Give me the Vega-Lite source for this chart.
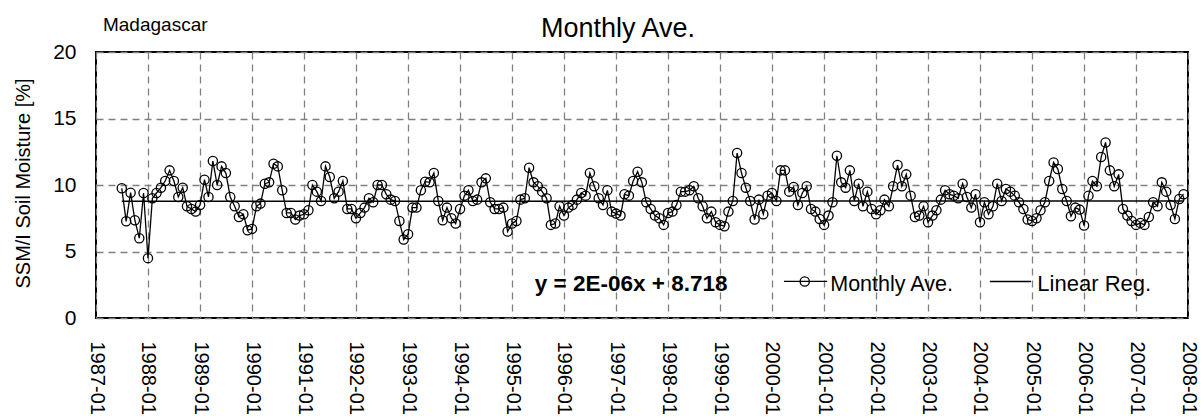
{
  "$schema": "https://vega.github.io/schema/vega-lite/v6.json",
  "width": 1092,
  "height": 266,
  "autosize": {"type": "none"},
  "padding": {"left": 96, "top": 52, "right": 16, "bottom": 101},
  "background": "white",
  "config": {
    "font": "Liberation Sans",
    "view": {"stroke": "black", "strokeWidth": 2},
    "axis": {"labelColor": "black", "titleColor": "black", "domain": false, "ticks": false, "gridColor": "#808080", "gridDash": [7, 5], "gridWidth": 1.3, "gridOpacity": 1}
  },
  "datasets": {
    "monthly": [
      {"d":"1987-07-01","v":9.75},{"d":"1987-08-01","v":7.27},{"d":"1987-09-01","v":9.42},{"d":"1987-10-01","v":7.35},{"d":"1987-11-01","v":6.0},{"d":"1987-12-01","v":9.4},
      {"d":"1988-01-01","v":4.5},{"d":"1988-02-01","v":9.0},{"d":"1988-03-01","v":9.4},{"d":"1988-04-01","v":9.8},{"d":"1988-05-01","v":10.3},{"d":"1988-06-01","v":11.1},{"d":"1988-07-01","v":10.3},{"d":"1988-08-01","v":9.1},{"d":"1988-09-01","v":9.8},{"d":"1988-10-01","v":8.4},{"d":"1988-11-01","v":8.2},{"d":"1988-12-01","v":8.0},
      {"d":"1989-01-01","v":8.5},{"d":"1989-02-01","v":10.4},{"d":"1989-03-01","v":9.1},{"d":"1989-04-01","v":11.8},{"d":"1989-05-01","v":10.0},{"d":"1989-06-01","v":11.4},{"d":"1989-07-01","v":10.9},{"d":"1989-08-01","v":9.1},{"d":"1989-09-01","v":8.4},{"d":"1989-10-01","v":7.6},{"d":"1989-11-01","v":7.8},{"d":"1989-12-01","v":6.6},
      {"d":"1990-01-01","v":6.7},{"d":"1990-02-01","v":8.4},{"d":"1990-03-01","v":8.6},{"d":"1990-04-01","v":10.1},{"d":"1990-05-01","v":10.2},{"d":"1990-06-01","v":11.6},{"d":"1990-07-01","v":11.4},{"d":"1990-08-01","v":9.6},{"d":"1990-09-01","v":7.9},{"d":"1990-10-01","v":7.9},{"d":"1990-11-01","v":7.4},{"d":"1990-12-01","v":7.7},
      {"d":"1991-01-01","v":7.8},{"d":"1991-02-01","v":8.1},{"d":"1991-03-01","v":10.0},{"d":"1991-04-01","v":9.5},{"d":"1991-05-01","v":8.8},{"d":"1991-06-01","v":11.4},{"d":"1991-07-01","v":10.6},{"d":"1991-08-01","v":9.0},{"d":"1991-09-01","v":9.5},{"d":"1991-10-01","v":10.3},{"d":"1991-11-01","v":8.2},{"d":"1991-12-01","v":8.2},
      {"d":"1992-01-01","v":7.5},{"d":"1992-02-01","v":7.9},{"d":"1992-03-01","v":8.3},{"d":"1992-04-01","v":9.0},{"d":"1992-05-01","v":8.7},{"d":"1992-06-01","v":10.0},{"d":"1992-07-01","v":10.0},{"d":"1992-08-01","v":9.3},{"d":"1992-09-01","v":8.9},{"d":"1992-10-01","v":8.8},{"d":"1992-11-01","v":7.3},{"d":"1992-12-01","v":5.9},
      {"d":"1993-01-01","v":6.3},{"d":"1993-02-01","v":8.3},{"d":"1993-03-01","v":8.3},{"d":"1993-04-01","v":9.6},{"d":"1993-05-01","v":10.25},{"d":"1993-06-01","v":10.2},{"d":"1993-07-01","v":10.9},{"d":"1993-08-01","v":8.8},{"d":"1993-09-01","v":7.35},{"d":"1993-10-01","v":8.3},{"d":"1993-11-01","v":7.5},{"d":"1993-12-01","v":7.1},
      {"d":"1994-01-01","v":8.2},{"d":"1994-02-01","v":9.2},{"d":"1994-03-01","v":9.6},{"d":"1994-04-01","v":8.8},{"d":"1994-05-01","v":8.9},{"d":"1994-06-01","v":10.2},{"d":"1994-07-01","v":10.5},{"d":"1994-08-01","v":8.7},{"d":"1994-09-01","v":8.2},{"d":"1994-10-01","v":8.2},{"d":"1994-11-01","v":8.3},{"d":"1994-12-01","v":6.5},
      {"d":"1995-01-01","v":7.1},{"d":"1995-02-01","v":7.3},{"d":"1995-03-01","v":8.9},{"d":"1995-04-01","v":9.0},{"d":"1995-05-01","v":11.3},{"d":"1995-06-01","v":10.2},{"d":"1995-07-01","v":9.9},{"d":"1995-08-01","v":9.5},{"d":"1995-09-01","v":9.0},{"d":"1995-10-01","v":7.0},{"d":"1995-11-01","v":7.1},{"d":"1995-12-01","v":8.4},
      {"d":"1996-01-01","v":7.7},{"d":"1996-02-01","v":8.3},{"d":"1996-03-01","v":8.5},{"d":"1996-04-01","v":8.9},{"d":"1996-05-01","v":9.4},{"d":"1996-06-01","v":9.2},{"d":"1996-07-01","v":10.9},{"d":"1996-08-01","v":9.9},{"d":"1996-09-01","v":9.0},{"d":"1996-10-01","v":8.5},{"d":"1996-11-01","v":9.6},{"d":"1996-12-01","v":8.0},
      {"d":"1997-01-01","v":7.85},{"d":"1997-02-01","v":7.7},{"d":"1997-03-01","v":9.3},{"d":"1997-04-01","v":9.2},{"d":"1997-05-01","v":10.3},{"d":"1997-06-01","v":11.0},{"d":"1997-07-01","v":10.2},{"d":"1997-08-01","v":8.7},{"d":"1997-09-01","v":8.2},{"d":"1997-10-01","v":7.7},{"d":"1997-11-01","v":7.5},{"d":"1997-12-01","v":7.0},
      {"d":"1998-01-01","v":7.9},{"d":"1998-02-01","v":8.0},{"d":"1998-03-01","v":8.5},{"d":"1998-04-01","v":9.5},{"d":"1998-05-01","v":9.5},{"d":"1998-06-01","v":9.6},{"d":"1998-07-01","v":9.9},{"d":"1998-08-01","v":9.0},{"d":"1998-09-01","v":8.4},{"d":"1998-10-01","v":7.5},{"d":"1998-11-01","v":8.0},{"d":"1998-12-01","v":7.2},
      {"d":"1999-01-01","v":7.0},{"d":"1999-02-01","v":6.9},{"d":"1999-03-01","v":8.0},{"d":"1999-04-01","v":8.8},{"d":"1999-05-01","v":12.4},{"d":"1999-06-01","v":10.9},{"d":"1999-07-01","v":9.8},{"d":"1999-08-01","v":8.8},{"d":"1999-09-01","v":7.4},{"d":"1999-10-01","v":8.9},{"d":"1999-11-01","v":7.8},{"d":"1999-12-01","v":9.2},
      {"d":"2000-01-01","v":9.4},{"d":"2000-02-01","v":8.8},{"d":"2000-03-01","v":11.1},{"d":"2000-04-01","v":11.1},{"d":"2000-05-01","v":9.5},{"d":"2000-06-01","v":9.85},{"d":"2000-07-01","v":8.5},{"d":"2000-08-01","v":9.4},{"d":"2000-09-01","v":9.9},{"d":"2000-10-01","v":8.2},{"d":"2000-11-01","v":8.0},{"d":"2000-12-01","v":7.45},
      {"d":"2001-01-01","v":7.0},{"d":"2001-02-01","v":7.7},{"d":"2001-03-01","v":8.7},{"d":"2001-04-01","v":12.2},{"d":"2001-05-01","v":10.2},{"d":"2001-06-01","v":9.8},{"d":"2001-07-01","v":11.1},{"d":"2001-08-01","v":8.8},{"d":"2001-09-01","v":10.1},{"d":"2001-10-01","v":8.4},{"d":"2001-11-01","v":9.5},{"d":"2001-12-01","v":8.2},
      {"d":"2002-01-01","v":7.8},{"d":"2002-02-01","v":8.1},{"d":"2002-03-01","v":8.9},{"d":"2002-04-01","v":8.4},{"d":"2002-05-01","v":9.9},{"d":"2002-06-01","v":11.5},{"d":"2002-07-01","v":9.9},{"d":"2002-08-01","v":10.8},{"d":"2002-09-01","v":9.2},{"d":"2002-10-01","v":7.6},{"d":"2002-11-01","v":7.7},{"d":"2002-12-01","v":8.4},
      {"d":"2003-01-01","v":7.2},{"d":"2003-02-01","v":7.7},{"d":"2003-03-01","v":8.1},{"d":"2003-04-01","v":8.9},{"d":"2003-05-01","v":9.6},{"d":"2003-06-01","v":9.3},{"d":"2003-07-01","v":9.2},{"d":"2003-08-01","v":9.0},{"d":"2003-09-01","v":10.1},{"d":"2003-10-01","v":9.1},{"d":"2003-11-01","v":8.3},{"d":"2003-12-01","v":9.3},
      {"d":"2004-01-01","v":7.2},{"d":"2004-02-01","v":8.7},{"d":"2004-03-01","v":7.8},{"d":"2004-04-01","v":8.4},{"d":"2004-05-01","v":10.1},{"d":"2004-06-01","v":8.8},{"d":"2004-07-01","v":9.7},{"d":"2004-08-01","v":9.5},{"d":"2004-09-01","v":9.2},{"d":"2004-10-01","v":8.7},{"d":"2004-11-01","v":8.2},{"d":"2004-12-01","v":7.4},
      {"d":"2005-01-01","v":7.3},{"d":"2005-02-01","v":7.5},{"d":"2005-03-01","v":8.1},{"d":"2005-04-01","v":8.7},{"d":"2005-05-01","v":10.3},{"d":"2005-06-01","v":11.7},{"d":"2005-07-01","v":11.2},{"d":"2005-08-01","v":9.7},{"d":"2005-09-01","v":8.8},{"d":"2005-10-01","v":7.65},{"d":"2005-11-01","v":8.3},{"d":"2005-12-01","v":8.15},
      {"d":"2006-01-01","v":6.95},{"d":"2006-02-01","v":9.2},{"d":"2006-03-01","v":10.3},{"d":"2006-04-01","v":9.9},{"d":"2006-05-01","v":12.1},{"d":"2006-06-01","v":13.2},{"d":"2006-07-01","v":11.1},{"d":"2006-08-01","v":9.9},{"d":"2006-09-01","v":10.8},{"d":"2006-10-01","v":8.2},{"d":"2006-11-01","v":7.7},{"d":"2006-12-01","v":7.3},
      {"d":"2007-01-01","v":7.0},{"d":"2007-02-01","v":7.15},{"d":"2007-03-01","v":7.0},{"d":"2007-04-01","v":7.6},{"d":"2007-05-01","v":8.7},{"d":"2007-06-01","v":8.4},{"d":"2007-07-01","v":10.2},{"d":"2007-08-01","v":9.5},{"d":"2007-09-01","v":8.5},{"d":"2007-10-01","v":7.45},{"d":"2007-11-01","v":8.95},{"d":"2007-12-01","v":9.3}
    ],
    "reg": [
      {"d":"1987-07-01","v":8.78},{"d":"2007-12-01","v":8.80}
    ]
  },
  "layer": [
    {
      "data": {"name": "monthly"},
      "mark": {"type": "line", "stroke": "black", "strokeWidth": 1.3},
      "encoding": {
        "x": {
          "field": "d", "type": "temporal",
          "scale": {"type": "utc", "domain": [{"year": 1987, "month": 1, "date": 1, "utc": true}, {"year": 2008, "month": 1, "date": 1, "utc": true}], "nice": false},
          "axis": {"title": null, "tickCount": {"interval": "year", "step": 1}, "labelExpr": "utcFormat(datum.value, '%Y-%m')", "labelAngle": 90, "labelAlign": "left", "labelBaseline": "middle", "labelFontSize": 20, "labelPadding": 23, "labelFlush": false, "labelOverlap": false, "labelBound": false, "grid": true}
        },
        "y": {
          "field": "v", "type": "quantitative",
          "scale": {"domain": [0, 20], "nice": false},
          "axis": {"values": [0, 5, 10, 15, 20], "labelFontSize": 21, "labelPadding": 20, "labelFlush": false, "grid": true, "title": "SSM/I Soil Moisture [%]", "titleFontSize": 20, "titleFontWeight": "normal", "titleAngle": -90, "titleX": -73, "titleY": 131, "titleAlign": "center", "titleBaseline": "middle"}
        }
      }
    },
    {
      "data": {"name": "monthly"},
      "mark": {"type": "point", "filled": false, "stroke": "black", "strokeWidth": 1.3, "size": 85, "opacity": 1},
      "encoding": {
        "x": {"field": "d", "type": "temporal"},
        "y": {"field": "v", "type": "quantitative"}
      }
    },
    {
      "data": {"name": "reg"},
      "mark": {"type": "line", "stroke": "black", "strokeWidth": 1.5},
      "encoding": {
        "x": {"field": "d", "type": "temporal"},
        "y": {"field": "v", "type": "quantitative"}
      }
    },
    {
      "data": {"values": [{}]},
      "mark": {"type": "text", "text": "y = 2E-06x + 8.718", "fontSize": 22.5, "fontWeight": "bold", "align": "left", "baseline": "alphabetic", "color": "black"},
      "encoding": {
        "x": {"datum": {"year": 1995, "month": 6, "date": 10, "utc": true}, "type": "temporal"},
        "y": {"datum": 2.0, "type": "quantitative"}
      }
    },
    {
      "data": {"values": [{}]},
      "mark": {"type": "rule", "stroke": "black", "strokeWidth": 1.3},
      "encoding": {
        "x": {"datum": {"year": 2000, "month": 3, "date": 25, "utc": true}, "type": "temporal"},
        "x2": {"datum": {"year": 2001, "month": 1, "date": 22, "utc": true}},
        "y": {"datum": 2.75, "type": "quantitative"}
      }
    },
    {
      "data": {"values": [{}]},
      "mark": {"type": "point", "filled": false, "stroke": "black", "strokeWidth": 1.3, "size": 85, "opacity": 1},
      "encoding": {
        "x": {"datum": {"year": 2000, "month": 8, "date": 18, "utc": true}, "type": "temporal"},
        "y": {"datum": 2.75, "type": "quantitative"}
      }
    },
    {
      "data": {"values": [{}]},
      "mark": {"type": "text", "text": "Monthly Ave.", "fontSize": 21.5, "align": "left", "baseline": "alphabetic", "color": "black"},
      "encoding": {
        "x": {"datum": {"year": 2001, "month": 2, "date": 13, "utc": true}, "type": "temporal"},
        "y": {"datum": 2.05, "type": "quantitative"}
      }
    },
    {
      "data": {"values": [{}]},
      "mark": {"type": "rule", "stroke": "black", "strokeWidth": 1.5},
      "encoding": {
        "x": {"datum": {"year": 2004, "month": 3, "date": 10, "utc": true}, "type": "temporal"},
        "x2": {"datum": {"year": 2004, "month": 12, "date": 25, "utc": true}},
        "y": {"datum": 2.75, "type": "quantitative"}
      }
    },
    {
      "data": {"values": [{}]},
      "mark": {"type": "text", "text": "Linear Reg.", "fontSize": 22, "align": "left", "baseline": "alphabetic", "color": "black"},
      "encoding": {
        "x": {"datum": {"year": 2005, "month": 2, "date": 7, "utc": true}, "type": "temporal"},
        "y": {"datum": 2.05, "type": "quantitative"}
      }
    },
    {
      "data": {"values": [{}]},
      "mark": {"type": "text", "text": "Madagascar", "fontSize": 19, "align": "left", "baseline": "alphabetic", "color": "black"},
      "encoding": {
        "x": {"datum": {"year": 1987, "month": 2, "date": 19, "utc": true}, "type": "temporal"},
        "y": {"datum": 21.6, "type": "quantitative"}
      }
    },
    {
      "data": {"values": [{}]},
      "mark": {"type": "text", "text": "Monthly Ave.", "fontSize": 27, "align": "center", "baseline": "alphabetic", "color": "black"},
      "encoding": {
        "x": {"datum": {"year": 1997, "month": 1, "date": 15, "utc": true}, "type": "temporal"},
        "y": {"datum": 21.1, "type": "quantitative"}
      }
    }
  ]
}
